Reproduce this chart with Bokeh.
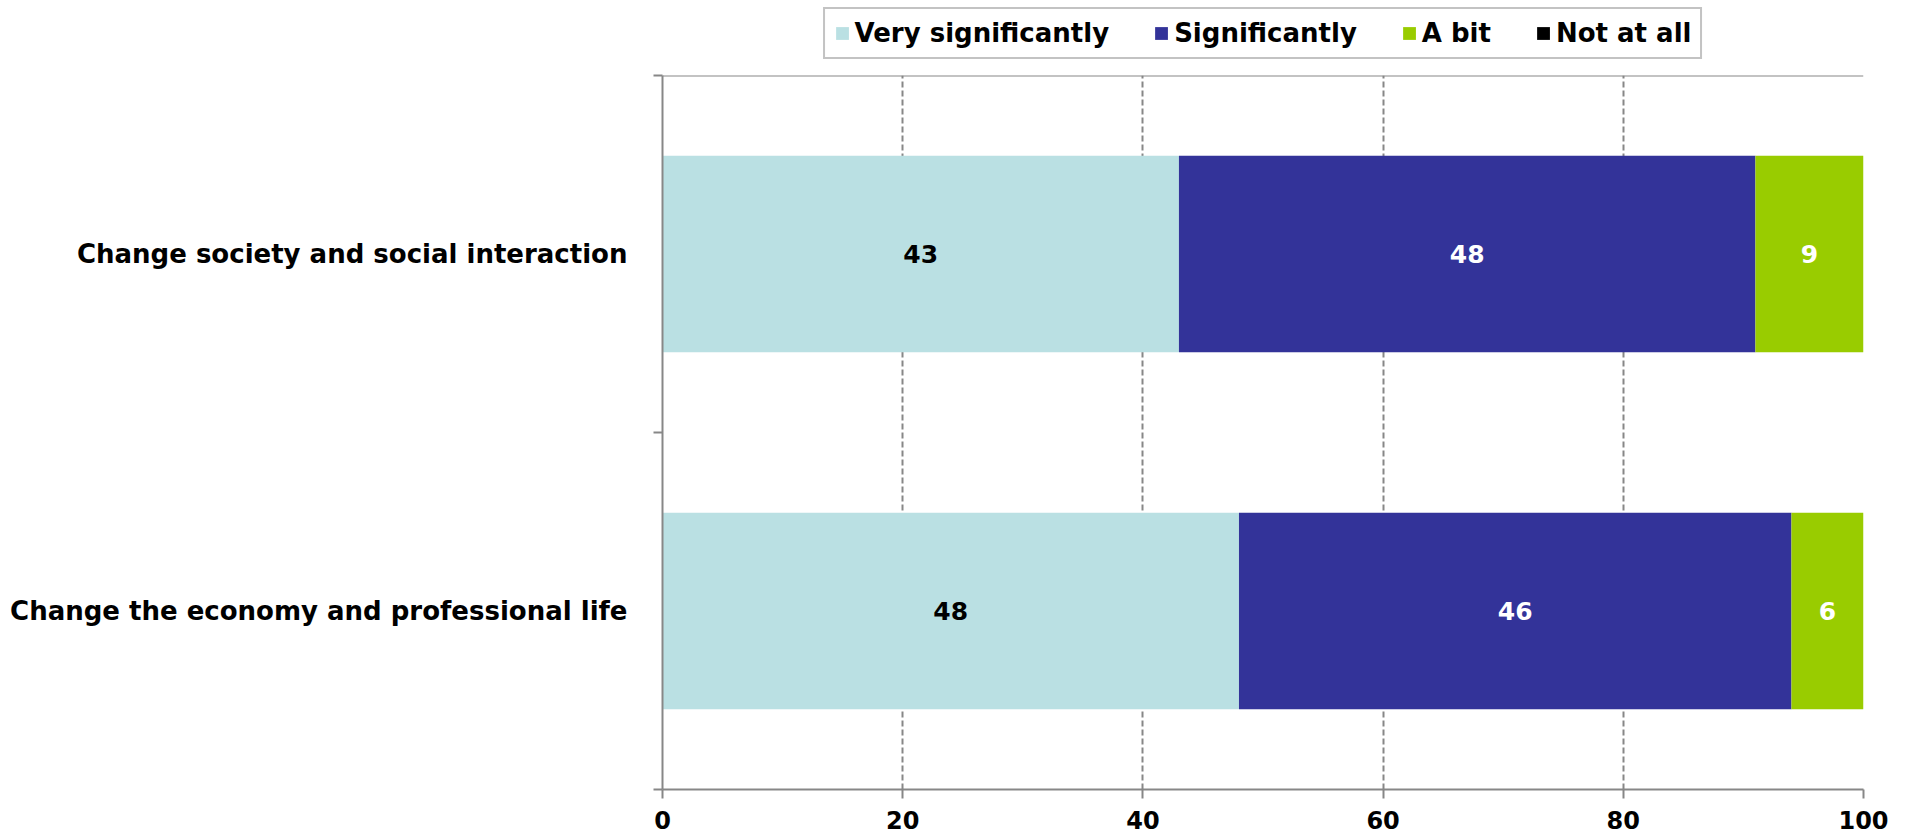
from bokeh.plotting import figure
from bokeh.layouts import column
from bokeh.models import (Range1d, FixedTicker, Legend, LegendItem, Span,
                          ColumnDataSource)
from bokeh.core.properties import value
from bokeh.embed import file_html
from bokeh.resources import INLINE

# Survey answers, in percent
categories = ["Change society and social interaction",
              "Change the economy and professional life"]
series = ["Very significantly", "Significantly", "A bit", "Not at all"]
very_significantly = [43, 48]
significantly = [48, 46]
a_bit = [9, 6]
not_at_all = [0, 0]
x_ticks = [0, 20, 40, 60, 80, 100]

colors = ["#BAE0E3", "#333399", "#99CC00", "#000000"]
label_colors = ["#000000", "#FFFFFF", "#FFFFFF", "#FFFFFF"]
FONT = "DejaVu Sans"
GREY = "#878787"

n = len(categories)
# first category sits at the top
ypos = [n - i - 0.5 for i in range(n)]

data = {"y": ypos, "cat": categories}
values = [very_significantly, significantly, a_bit, not_at_all]
for name, vals in zip(series, values):
    data[name] = vals
source = ColumnDataSource(data)

p = figure(width=1910, height=773, output_backend="svg", toolbar_location=None,
           x_range=Range1d(0, 100), y_range=Range1d(0, n),
           min_border_left=662, min_border_right=47,
           min_border_top=10, min_border_bottom=49)
p.outline_line_color = None
p.background_fill_color = "white"

p.hbar_stack(series, y="y", height=0.55, color=colors,
             line_color=None, source=source)

# value labels centred inside each segment
lx, ly, lt, lc = [], [], [], []
for j in range(n):
    left = 0
    for s, vals in enumerate(values):
        v = vals[j]
        if v > 0:
            lx.append(left + v / 2)
            ly.append(ypos[j])
            lt.append(str(v))
            lc.append(label_colors[s])
        left += v
p.text(x=lx, y=ly, text=lt, text_color=lc, text_align="center",
       text_baseline="middle", text_font=value(FONT),
       text_font_style="bold", text_font_size="25px")

# x axis
xa = p.xaxis[0]
xa.ticker = FixedTicker(ticks=x_ticks, minor_ticks=[])
xa.axis_line_color = GREY
xa.axis_line_width = 2
xa.major_tick_line_color = GREY
xa.major_tick_line_width = 2
xa.major_tick_out = 9
xa.major_tick_in = 0
xa.minor_tick_line_color = None
xa.major_label_text_font = FONT
xa.major_label_text_font_style = "bold"
xa.major_label_text_font_size = "24px"
xa.major_label_text_color = "black"
xa.major_label_standoff = 12

# y axis: labels at category centres, ticks at category boundaries
ya = p.yaxis[0]
ya.ticker = FixedTicker(ticks=ypos, minor_ticks=list(range(n + 1)))
ya.major_label_overrides = {y: c for y, c in zip(ypos, categories)}
ya.axis_line_color = GREY
ya.axis_line_width = 2
ya.major_tick_line_color = None
ya.major_tick_out = 0
ya.major_tick_in = 0
ya.minor_tick_line_color = GREY
ya.minor_tick_line_width = 2
ya.minor_tick_out = 9
ya.minor_tick_in = 0
ya.major_label_text_font = FONT
ya.major_label_text_font_style = "bold"
ya.major_label_text_font_size = "26px"
ya.major_label_text_color = "black"
ya.major_label_standoff = 26

p.ygrid.grid_line_color = None
p.xgrid.ticker = FixedTicker(ticks=x_ticks[1:])
p.xgrid.grid_line_color = GREY
p.xgrid.grid_line_width = 2
p.xgrid.grid_line_dash = "6 3"

# top border of the plotting area
p.add_layout(Span(location=n, dimension="width", line_color=GREY,
                  line_width=2))

# legend strip above the chart, aligned with the plotting area
lg = figure(width=1910, height=65, output_backend="svg", toolbar_location=None,
            x_range=Range1d(0, 100), y_range=Range1d(0, 1),
            x_axis_type=None, y_axis_type=None,
            min_border_left=662, min_border_right=47,
            min_border_top=0, min_border_bottom=0)
lg.outline_line_color = None
lg.xgrid.visible = False
lg.ygrid.visible = False
# zero-width placeholder bars below the visible range, used only as legend keys
key_src = ColumnDataSource({"y": [-1], "left": [0], "right": [0]})
items = []
for s, c in zip(series, colors):
    r = lg.hbar(y="y", left="left", right="right", height=0.5,
                fill_color=c, line_color=None, source=key_src)
    items.append(LegendItem(label=s, renderers=[r]))

legend = Legend(items=items, orientation="horizontal", location="center",
                label_text_font=FONT, label_text_font_style="bold",
                label_text_font_size="26px", label_text_color="black",
                glyph_width=16, glyph_height=16, label_standoff=5,
                spacing=44, padding=9, margin=0,
                border_line_color=GREY, border_line_width=2,
                background_fill_color="white")
lg.add_layout(legend, "center")

layout = column(lg, p, spacing=0)
open("out.html", "w").write(file_html(layout, INLINE))
